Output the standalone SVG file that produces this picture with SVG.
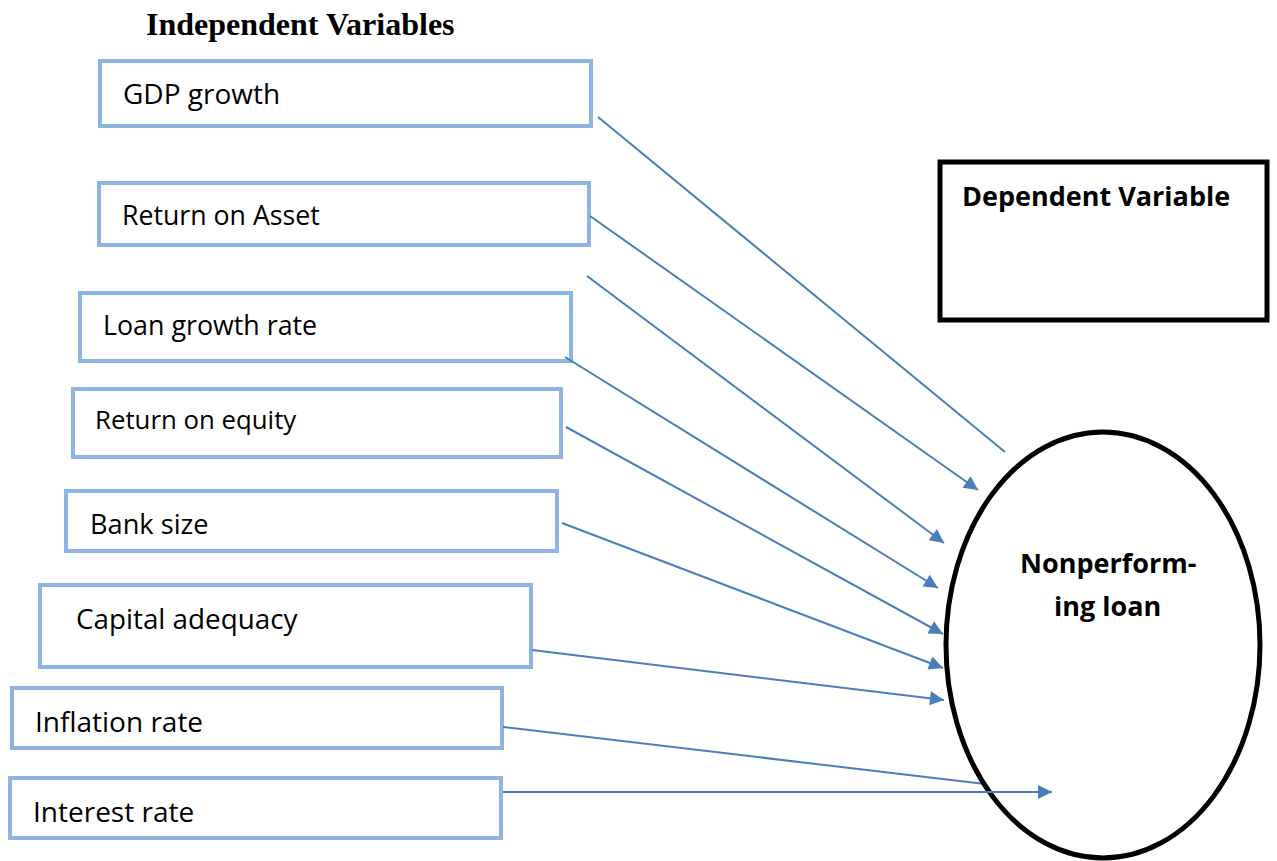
<svg xmlns="http://www.w3.org/2000/svg" width="1277" height="861" viewBox="0 0 1277 861">
  <style>
    .box { fill: #ffffff; stroke: #8EB4E3; stroke-width: 4; }
    .lbl { font-family: "Open Sans", "Noto Sans", sans-serif; font-size: 28px; fill: #000; }
    .bold { font-family: "Open Sans", "Noto Sans", sans-serif; font-weight: bold; font-size: 27px; fill: #000; }
    .title { font-family: "Liberation Serif", serif; font-weight: bold; font-size: 32px; fill: #000; }
    .link { stroke: #4A7EBB; stroke-width: 2; fill: none; }
    .arrow { marker-end: url(#head); }
  </style>
  <defs>
    <marker id="head" viewBox="0 0 10 10" refX="10" refY="5" markerWidth="8" markerHeight="7" markerUnits="strokeWidth" orient="auto">
      <path d="M0,0 L10,5 L0,10 z" fill="#4A7EBB"/>
    </marker>
  </defs>
  <rect width="1277" height="861" fill="#ffffff"/>

  <text class="title" x="146" y="35">Independent Variables</text>

  <g id="gdp"><rect class="box" x="100" y="61" width="491" height="65"/><text class="lbl" x="123" y="104">GDP growth</text></g>
  <g id="roa"><rect class="box" x="99" y="183" width="490" height="62"/><text class="lbl" x="122" y="225" style="font-size:26.7px">Return on Asset</text></g>
  <g id="loan"><rect class="box" x="80" y="293" width="491" height="68"/><text class="lbl" x="103" y="335" style="font-size:26.8px">Loan growth rate</text></g>
  <g id="roe"><rect class="box" x="73" y="389" width="488" height="68"/><text class="lbl" x="95" y="429" style="font-size:25.8px">Return on equity</text></g>
  <g id="size"><rect class="box" x="66" y="491" width="491" height="60"/><text class="lbl" x="90" y="534" style="font-size:27.2px">Bank size</text></g>
  <g id="capital"><rect class="box" x="40" y="585" width="491" height="82"/><text class="lbl" x="76" y="629" style="font-size:27.8px">Capital adequacy</text></g>
  <g id="inflation"><rect class="box" x="12" y="688" width="490" height="60"/><text class="lbl" x="35" y="732">Inflation rate</text></g>
  <g id="interest"><rect class="box" x="10" y="778" width="491" height="60"/><text class="lbl" x="33" y="822">Interest rate</text></g>

  <g id="dependent"><rect x="940" y="162" width="327" height="158" fill="#ffffff" stroke="#000" stroke-width="5"/><text class="bold" x="962" y="206">Dependent Variable</text></g>

  <g id="connectors">
    <line class="link" x1="598" y1="117" x2="1005" y2="452"/>
    <line class="link arrow" x1="590" y1="216" x2="978" y2="490"/>
    <line class="link arrow" x1="587" y1="276" x2="944" y2="543"/>
    <line class="link arrow" x1="565" y1="357" x2="938" y2="588"/>
    <line class="link arrow" x1="566" y1="427" x2="943" y2="634"/>
    <line class="link arrow" x1="562" y1="523" x2="943" y2="668"/>
    <line class="link arrow" x1="532" y1="650" x2="944" y2="700"/>
    <line class="link" x1="503" y1="727" x2="985" y2="784"/>
  </g>

  <g id="npl"><ellipse cx="1103" cy="645" rx="157" ry="213" fill="none" stroke="#000" stroke-width="5"/><text class="bold" x="1020" y="573">Nonperform-</text><text class="bold" x="1054" y="616">ing loan</text></g>

  <g id="connectors-front">
    <line class="link arrow" x1="503" y1="792" x2="1052" y2="792"/>
  </g>
</svg>
